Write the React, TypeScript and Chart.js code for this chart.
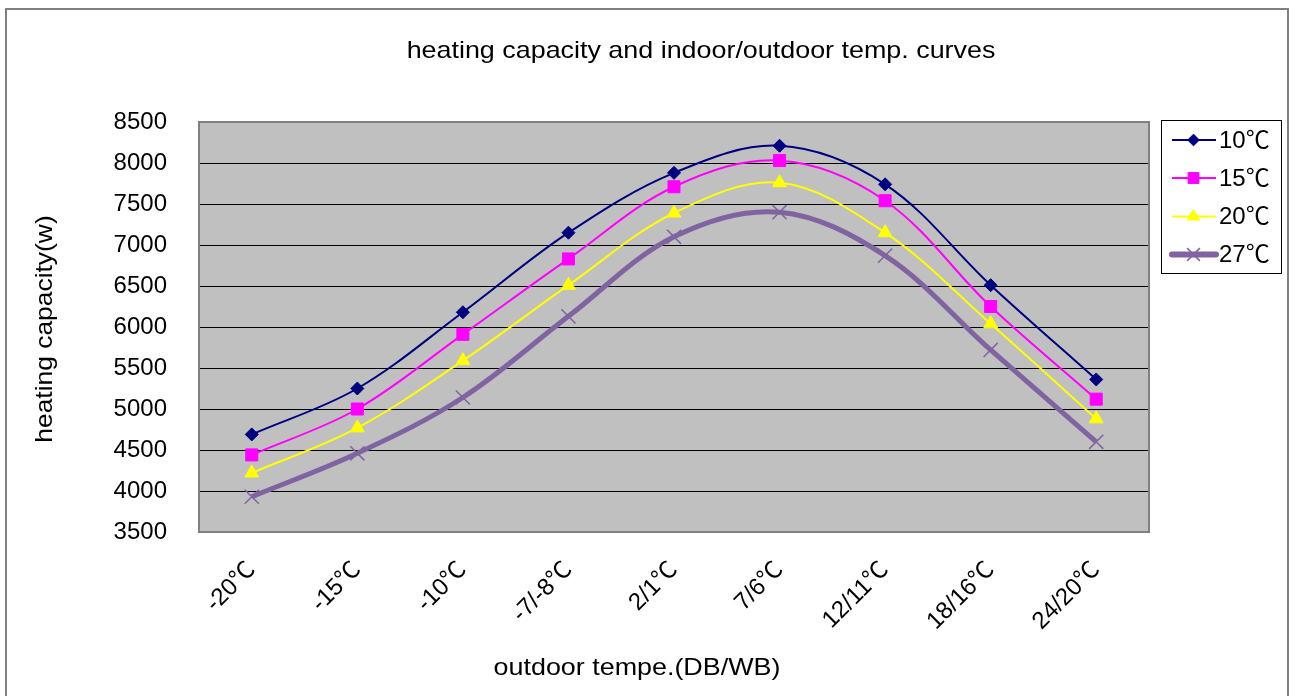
import React, { useEffect, useRef } from 'react';
import { Chart, registerables } from 'chart.js';

Chart.register(...registerables);

const categories = ['-20℃', '-15℃', '-10℃', '-7/-8℃', '2/1℃', '7/6℃', '12/11℃', '18/16℃', '24/20℃'];
const seriesNames = ['10℃', '15℃', '20℃', '27℃'];
const cap10 = [4690, 5250, 6180, 7150, 7880, 8210, 7740, 6510, 5360];
const cap15 = [4440, 5000, 5910, 6830, 7710, 8030, 7540, 6250, 5120];
const cap20 = [4220, 4770, 5590, 6510, 7390, 7760, 7150, 6040, 4880];
const cap27 = [3930, 4460, 5140, 6130, 7100, 7400, 6870, 5720, 4600];
const yMin = 3500;
const yMax = 8500;
const yStep = 500;
const titleText = 'heating capacity and indoor/outdoor temp. curves';
const xTitleText = 'outdoor tempe.(DB/WB)';
const yTitleText = 'heating capacity(w)';

const FONT = "Arial, 'Liberation Sans', 'Noto Sans CJK SC', sans-serif";

const styles = [
  { color: '#000080', width: 2, point: 'rectRot', radius: 6.5, pbw: 1 },
  { color: '#FF00FF', width: 2, point: 'rect', radius: 8.5, pbw: 1 },
  { color: '#FFFF00', width: 2, point: 'triangle', radius: 8, pbw: 1 },
  { color: '#8064A2', width: 5, point: 'crossRot', radius: 10, pbw: 1.5 },
];

function drawMarker(ctx: CanvasRenderingContext2D, style: string, x: number, y: number, r: number, color: string, bw: number) {
  ctx.save();
  ctx.fillStyle = color;
  ctx.strokeStyle = color;
  ctx.lineWidth = bw;
  ctx.beginPath();
  if (style === 'rectRot') {
    ctx.moveTo(x, y - r);
    ctx.lineTo(x + r, y);
    ctx.lineTo(x, y + r);
    ctx.lineTo(x - r, y);
    ctx.closePath();
    ctx.fill();
    ctx.stroke();
  } else if (style === 'rect') {
    const s = Math.SQRT1_2 * r;
    ctx.rect(x - s, y - s, 2 * s, 2 * s);
    ctx.fill();
    ctx.stroke();
  } else if (style === 'triangle') {
    ctx.moveTo(x, y - r);
    ctx.lineTo(x + r * Math.cos(Math.PI / 6), y + r * 0.5);
    ctx.lineTo(x - r * Math.cos(Math.PI / 6), y + r * 0.5);
    ctx.closePath();
    ctx.fill();
    ctx.stroke();
  } else if (style === 'crossRot') {
    const d = r * Math.SQRT1_2;
    ctx.moveTo(x - d, y - d);
    ctx.lineTo(x + d, y + d);
    ctx.moveTo(x + d, y - d);
    ctx.lineTo(x - d, y + d);
    ctx.stroke();
  }
  ctx.restore();
}

function wideText(ctx: CanvasRenderingContext2D, text: string, x: number, y: number, sx: number, rot = 0) {
  ctx.save();
  ctx.translate(x, y);
  if (rot) ctx.rotate(rot);
  ctx.scale(sx, 1);
  ctx.fillText(text, 0, 0);
  ctx.restore();
}

const decorPlugin = {
  id: 'decor',
  beforeDraw(chart: any) {
    const { ctx, chartArea } = chart;
    ctx.save();
    ctx.fillStyle = '#ffffff';
    ctx.fillRect(0, 0, chart.width, chart.height);
    ctx.fillStyle = '#C0C0C0';
    ctx.fillRect(chartArea.left, chartArea.top, chartArea.right - chartArea.left, chartArea.bottom - chartArea.top);
    ctx.restore();
  },
  beforeDatasetsDraw(chart: any) {
    const { ctx, chartArea } = chart;
    ctx.save();
    ctx.strokeStyle = '#808080';
    ctx.lineWidth = 2;
    ctx.strokeRect(chartArea.left, chartArea.top, chartArea.right - chartArea.left, chartArea.bottom - chartArea.top);
    ctx.restore();
  },
  afterDraw(chart: any) {
    const { ctx } = chart;
    ctx.save();
    ctx.strokeStyle = '#808080';
    ctx.lineWidth = 2;
    ctx.strokeRect(6, 9, 1282, 700);
    ctx.fillStyle = '#000';
    ctx.font = `24px ${FONT}`;
    ctx.textAlign = 'center';
    ctx.textBaseline = 'middle';
    wideText(ctx, titleText, 701, 51, 1.12);
    wideText(ctx, xTitleText, 637, 668, 1.12);
    wideText(ctx, yTitleText, 45, 329, 1.1, -Math.PI / 2);
    ctx.strokeStyle = '#000';
    ctx.lineWidth = 1;
    ctx.strokeRect(1161.5, 120.5, 120, 153);
    const rows = [140, 178, 216.5, 254.5];
    seriesNames.forEach((name, i) => {
      const st = styles[i];
      const y = rows[i];
      ctx.save();
      ctx.strokeStyle = st.color;
      ctx.lineWidth = i === 3 ? 6 : st.width;
      ctx.lineCap = i === 3 ? 'round' : 'butt';
      ctx.beginPath();
      ctx.moveTo(1172, y);
      ctx.lineTo(1216, y);
      ctx.stroke();
      ctx.restore();
      drawMarker(ctx, st.point, 1193.5, y, st.radius * 0.9, st.color, st.pbw);
      ctx.fillStyle = '#000';
      ctx.textAlign = 'left';
      ctx.textBaseline = 'middle';
      ctx.font = `24px ${FONT}`;
      ctx.fillText(name, 1219, y + 1);
    });
    ctx.restore();
  },
};

export default function App() {
  const ref = useRef<HTMLCanvasElement | null>(null);
  useEffect(() => {
    if (!ref.current) return;
    const seriesData = [cap10, cap15, cap20, cap27];
    const chart = new Chart(ref.current, {
      type: 'line',
      data: {
        labels: categories,
        datasets: seriesNames.map((name, i) => ({
          label: name,
          data: seriesData[i],
          borderColor: styles[i].color,
          backgroundColor: styles[i].color,
          borderWidth: styles[i].width,
          pointStyle: styles[i].point as any,
          pointRadius: styles[i].radius,
          pointBorderWidth: styles[i].pbw,
          pointBorderColor: styles[i].color,
          pointBackgroundColor: styles[i].color,
          tension: 0.35,
          fill: false,
          clip: false as any,
        })),
      },
      options: {
        animation: false,
        responsive: true,
        maintainAspectRatio: false,
        layout: { padding: { top: 122, right: 146, left: 0, bottom: 0 } },
        plugins: {
          legend: { display: false },
          title: { display: false },
          tooltip: { enabled: false },
        },
        scales: {
          x: {
            type: 'category',
            offset: true,
            grid: { display: false, drawTicks: false },
            border: { display: false },
            ticks: {
              autoSkip: false,
              maxRotation: 45,
              minRotation: 45,
              padding: 24,
              color: '#000',
              font: { family: FONT, size: 24 },
            },
            afterFit: (scale: any) => {
              scale.height = 164;
            },
          },
          y: {
            min: yMin,
            max: yMax,
            ticks: {
              stepSize: yStep,
              padding: 32,
              color: '#000',
              font: { family: FONT, size: 24 },
              callback: (v: any) => String(v),
            },
            grid: { color: '#000', lineWidth: 1, drawTicks: false },
            border: { display: false },
            afterFit: (scale: any) => {
              scale.width = 199;
            },
          },
        },
      },
      plugins: [decorPlugin],
    });
    return () => chart.destroy();
  }, []);
  return (
    <div style={{ position: 'fixed', left: 0, top: 0, width: 1295, height: 696, background: '#fff' }}>
      <canvas ref={ref} />
    </div>
  );
}
